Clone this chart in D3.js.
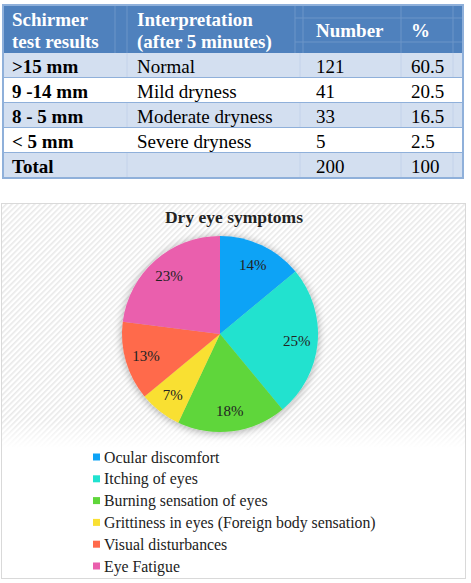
<!DOCTYPE html>
<html>
<head>
<meta charset="utf-8">
<script src="https://cdn.jsdelivr.net/npm/d3@7"></script>
<style>
  html, body { margin: 0; padding: 0; background: #fff; }
</style>
</head>
<body>
<svg id="root" width="471" height="583"></svg>
<script>
// table data
var tableHeader = [["Schirmer", "test results"], ["Interpretation", "(after 5 minutes)"], ["Number"], ["%"]];
var testResults = [">15 mm", "9 -14 mm", "8 - 5 mm", "< 5 mm", "Total"];
var interpretations = ["Normal", "Mild dryness", "Moderate dryness", "Severe dryness", ""];
var numbers = ["121", "41", "33", "5", "200"];
var percents = ["60.5", "20.5", "16.5", "2.5", "100"];

// pie data
var symptoms = ["Ocular discomfort", "Itching of eyes", "Burning sensation of eyes",
  "Grittiness in eyes (Foreign body sensation)", "Visual disturbances", "Eye Fatigue"];
var symptomPct = [14, 25, 18, 7, 13, 23];
var symptomColors = ["#0ea3f6", "#20e2cf", "#5fd63a", "#f9e033", "#ff6a4b", "#ea5fad"];

var SERIF = "'Liberation Serif', 'Times New Roman', Times, 'DejaVu Serif', serif";
var svg = d3.select("#root");

// ---------- table ----------
var tLeft = 3, tRight = 463, tTop = 5, headH = 48, rowH = 25;
var textX = [12, 137, 316, 411];

var tbl = svg.append("g");
tbl.append("rect")
  .attr("x", tLeft).attr("y", tTop)
  .attr("width", tRight - tLeft).attr("height", headH)
  .attr("fill", "#4f81bd");

// faint inner header lines
[18, 42].forEach(function(y) {
  tbl.append("line").attr("x1", 295).attr("x2", tRight).attr("y1", y).attr("y2", y)
    .attr("stroke", "#6c95c8").attr("stroke-width", 1);
});
[115, 127, 295, 303, 401, 453].forEach(function(x) {
  tbl.append("line").attr("x1", x).attr("x2", x).attr("y1", tTop).attr("y2", tTop + headH)
    .attr("stroke", "#6c95c8").attr("stroke-width", 1);
});

tableHeader.forEach(function(lines, i) {
  var t = tbl.append("text")
    .attr("x", textX[i])
    .attr("fill", "#fff")
    .attr("font-family", SERIF)
    .attr("font-weight", "bold")
    .attr("font-size", 19);
  if (lines.length === 2) {
    t.append("tspan").attr("x", textX[i]).attr("y", 26).text(lines[0]);
    t.append("tspan").attr("x", textX[i]).attr("y", 48).text(lines[1]);
  } else {
    t.attr("y", 37).text(lines[0]);
  }
});

var rows = tbl.selectAll("g.row")
  .data(testResults)
  .join("g")
  .attr("class", "row")
  .attr("transform", function(d, i) { return "translate(0," + (tTop + headH + i * rowH) + ")"; });

rows.append("rect")
  .attr("x", tLeft).attr("width", tRight - tLeft).attr("height", rowH)
  .attr("fill", function(d, i) { return i % 2 === 0 ? "#d3dff0" : "#ffffff"; });

rows.each(function(d, i) {
  var g = d3.select(this);
  var cells = [testResults[i], interpretations[i], numbers[i], percents[i]];
  cells.forEach(function(c, j) {
    g.append("text")
      .attr("x", textX[j]).attr("y", 20)
      .attr("font-family", SERIF)
      .attr("font-size", 19)
      .attr("font-weight", j === 0 ? "bold" : "normal")
      .attr("fill", "#000")
      .text(c);
  });
  if (i % 2 === 0) {
    [127, 300, 401, 453].forEach(function(x) {
      g.append("line").attr("x1", x).attr("x2", x).attr("y1", 0).attr("y2", rowH)
        .attr("stroke", "#c3d2ea").attr("stroke-width", 1);
    });
  }
  g.append("line").attr("x1", tLeft).attr("x2", tRight).attr("y1", rowH).attr("y2", rowH)
    .attr("stroke", "#8fb0da").attr("stroke-width", 2);
});

tbl.append("rect")
  .attr("x", tLeft).attr("y", tTop)
  .attr("width", tRight - tLeft).attr("height", headH + rowH * testResults.length)
  .attr("fill", "none").attr("stroke", "#8fb0da").attr("stroke-width", 2);

// ---------- chart ----------
var defs = svg.append("defs");
var pat = defs.append("pattern")
  .attr("id", "hatch").attr("patternUnits", "userSpaceOnUse")
  .attr("width", 4).attr("height", 4)
  .attr("patternTransform", "rotate(-45)");
pat.append("rect").attr("width", 4).attr("height", 4).attr("fill", "#fff");
pat.append("rect").attr("width", 4).attr("height", 1.6).attr("fill", "#e9e9e9");

var fadeGrad = defs.append("linearGradient").attr("id", "fade")
  .attr("x1", 0).attr("y1", 0).attr("x2", 0).attr("y2", 1);
fadeGrad.append("stop").attr("offset", "0").attr("stop-color", "#fff").attr("stop-opacity", 0);
fadeGrad.append("stop").attr("offset", "1").attr("stop-color", "#fff").attr("stop-opacity", 1);

var shadow = defs.append("filter").attr("id", "shadow")
  .attr("x", "-20%").attr("y", "-20%").attr("width", "140%").attr("height", "140%");
shadow.append("feGaussianBlur").attr("in", "SourceAlpha").attr("stdDeviation", 4);
shadow.append("feOffset").attr("dx", 0).attr("dy", 1).attr("result", "blur");
shadow.append("feComponentTransfer").append("feFuncA").attr("type", "linear").attr("slope", 0.35);
var merge = shadow.append("feMerge");
merge.append("feMergeNode");
merge.append("feMergeNode").attr("in", "SourceGraphic");

var box = { x: 1, y: 203, w: 464, h: 375 };
svg.append("rect")
  .attr("x", box.x).attr("y", box.y).attr("width", box.w).attr("height", 245)
  .attr("fill", "url(#hatch)");
svg.append("rect")
  .attr("x", box.x).attr("y", 420).attr("width", box.w).attr("height", 28)
  .attr("fill", "url(#fade)");
svg.append("rect")
  .attr("x", box.x).attr("y", 448).attr("width", box.w).attr("height", box.y + box.h - 448)
  .attr("fill", "#fff");
svg.append("rect")
  .attr("x", box.x + 0.5).attr("y", box.y + 0.5).attr("width", box.w).attr("height", box.h)
  .attr("fill", "none").attr("stroke", "#d9d9d9");

svg.append("text")
  .attr("x", 234).attr("y", 223)
  .attr("text-anchor", "middle")
  .attr("font-family", SERIF)
  .attr("font-size", 17.5).attr("font-weight", "bold")
  .attr("fill", "#222")
  .text("Dry eye symptoms");

var cx = 220, cy = 334, r = 98;
var pie = d3.pie().sort(null).value(function(d) { return d; });
var arc = d3.arc().innerRadius(0).outerRadius(r);
var labelArc = d3.arc().innerRadius(77).outerRadius(77);
var color = d3.scaleOrdinal().domain(symptoms).range(symptomColors);

var pg = svg.append("g").attr("transform", "translate(" + cx + "," + cy + ")");
var arcs = pie(symptomPct);
pg.append("g").attr("filter", "url(#shadow)")
  .selectAll("path")
  .data(arcs)
  .join("path")
  .attr("d", arc)
  .attr("fill", function(d, i) { return color(symptoms[i]); });

pg.selectAll("text.lbl")
  .data(arcs)
  .join("text")
  .attr("class", "lbl")
  .attr("transform", function(d) { return "translate(" + labelArc.centroid(d) + ")"; })
  .attr("text-anchor", "middle")
  .attr("dy", "0.35em")
  .attr("font-family", SERIF)
  .attr("font-size", 15)
  .attr("fill", "#222")
  .text(function(d) { return d.data + "%"; });

// legend
var legend = svg.append("g").attr("transform", "translate(93,457)");
var li = legend.selectAll("g")
  .data(symptoms)
  .join("g")
  .attr("transform", function(d, i) { return "translate(0," + (i * 21.8) + ")"; });
li.append("rect").attr("x", 0).attr("y", -3.5).attr("width", 7).attr("height", 7)
  .attr("fill", function(d) { return color(d); });
li.append("text").attr("x", 11).attr("y", 5.5)
  .attr("font-family", SERIF)
  .attr("font-size", 15.8).attr("fill", "#222")
  .text(function(d) { return d; });
</script>
</body>
</html>
